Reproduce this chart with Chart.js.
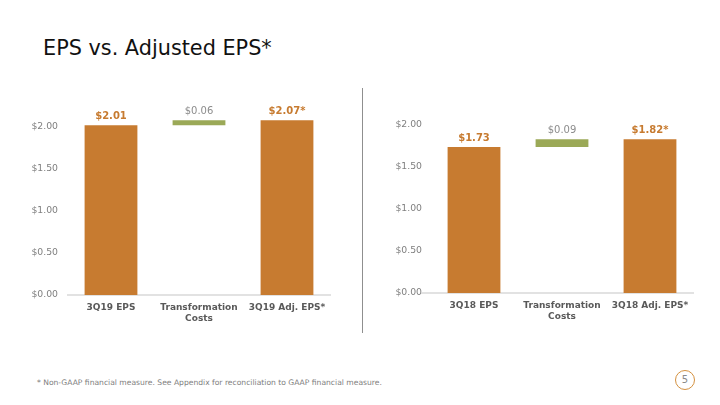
<!DOCTYPE html>
<html>
<head>
<meta charset="utf-8">
<script src="https://cdn.jsdelivr.net/npm/chart.js@4.4.0/dist/chart.umd.min.js"></script>
<style>
  html, body { margin: 0; padding: 0; background: #fff; }
  body { width: 720px; height: 405px; position: relative; overflow: hidden; font-family: "DejaVu Sans", Verdana, sans-serif; }
  #title { position: absolute; left: 43px; top: 36px; font-size: 20.8px; color: #111; white-space: nowrap; }
  .wrap { position: absolute; }
  #divider { position: absolute; left: 362px; top: 88px; width: 1px; height: 245px; background: #8f8f8f; }
  #foot { position: absolute; left: 37px; top: 378px; font-size: 7.6px; color: #808080; white-space: nowrap; }
  #page { position: absolute; left: 675px; top: 370px; width: 18px; height: 18px; border: 1.5px solid #D4913F; border-radius: 50%; text-align: center; line-height: 18px; font-size: 10px; color: #8a8a8a; }
</style>
</head>
<body>
<div id="title">EPS vs. Adjusted EPS*</div>
<div class="wrap" style="left:0px;top:80px;width:350px;height:270px;"><canvas id="c1" width="350" height="270"></canvas></div>
<div id="divider"></div>
<div class="wrap" style="left:360px;top:80px;width:355px;height:270px;"><canvas id="c2" width="355" height="270"></canvas></div>
<div id="foot">* Non-GAAP financial measure. See Appendix for reconciliation to GAAP financial measure.</div>
<div id="page">5</div>
<script>
// ---- Data ----
const categories2019 = ["3Q19 EPS", ["Transformation", "Costs"], "3Q19 Adj. EPS*"];
const values2019 = [2.01, 0.06, 2.07];
const labels2019 = ["$2.01", "$0.06", "$2.07*"];

const categories2018 = ["3Q18 EPS", ["Transformation", "Costs"], "3Q18 Adj. EPS*"];
const values2018 = [1.73, 0.09, 1.82];
const labels2018 = ["$1.73", "$0.09", "$1.82*"];

const yTickValues = [0, 0.5, 1.0, 1.5, 2.0];

const ORANGE = "#C77B30";
const GREEN = "#9BA957";

function waterfall(vals) {
  // first bar from 0, middle floats on top of first, last from 0
  return [[0, vals[0]], [vals[0], vals[0] + vals[1]], [0, vals[2]]];
}

const labelPlugin = {
  id: "valLabels",
  afterDatasetsDraw(chart, args, opts) {
    const ctx = chart.ctx;
    const meta = chart.getDatasetMeta(0);
    ctx.save();
    meta.data.forEach((bar, i) => {
      const txt = opts.labels[i];
      const isMid = i === 1;
      ctx.font = (isMid ? "" : "bold ") + "10px 'DejaVu Sans'";
      ctx.fillStyle = isMid ? "#8c8c8c" : ORANGE;
      ctx.textAlign = "center";
      ctx.textBaseline = "middle";
      ctx.fillText(txt, bar.x, bar.y - 9);
    });
    ctx.restore();
  }
};

const baselinePlugin = {
  id: "baseline",
  beforeDatasetsDraw(chart, args, opts) {
    const ctx = chart.ctx;
    const y = chart.scales.y.getPixelForValue(0);
    ctx.save();
    ctx.strokeStyle = "#d9d9d9";
    ctx.lineWidth = 1.5;
    ctx.beginPath();
    ctx.moveTo(chart.chartArea.left - opts.extend, y);
    ctx.lineTo(chart.chartArea.right, y);
    ctx.stroke();
    ctx.restore();
  }
};

function makeChart(id, cats, vals, lbls, yWidth, tickPad, padTop, padRight, xHeight) {
  return new Chart(document.getElementById(id), {
    type: "bar",
    data: {
      labels: cats,
      datasets: [{
        data: waterfall(vals),
        backgroundColor: [ORANGE, GREEN, ORANGE],
        borderWidth: 0,
        categoryPercentage: 1.0,
        barPercentage: 0.6
      }]
    },
    options: {
      responsive: false,
      animation: false,
      layout: { padding: { top: padTop, right: padRight, left: 0, bottom: 0 } },
      plugins: {
        legend: { display: false },
        tooltip: { enabled: false },
        valLabels: { labels: lbls },
        baseline: { extend: id === "c2" ? 9 : 0 }
      },
      scales: {
        x: {
          grid: { display: false, drawTicks: false },
          border: { display: false },
          ticks: {
            color: "#595959",
            font: { family: "'DejaVu Sans'", size: 9, weight: "bold", lineHeight: 1.25 },
            padding: 7,
            maxRotation: 0,
            autoSkip: false
          },
          afterFit: (s) => { s.height = xHeight; }
        },
        y: {
          min: 0,
          max: 2.31,
          grid: { display: false, drawTicks: false },
          border: { display: false },
          afterBuildTicks: (s) => { s.ticks = yTickValues.map(v => ({ value: v })); },
          ticks: {
            color: "#7f7f7f",
            font: { family: "'DejaVu Sans'", size: 9.3 },
            padding: tickPad,
            callback: (v) => "$" + Number(v).toFixed(2)
          },
          afterFit: (s) => { s.width = yWidth; }
        }
      }
    },
    plugins: [baselinePlugin, labelPlugin]
  });
}

makeChart("c1", categories2019, values2019, labels2019, 67, 9, 20, 19, 55);
makeChart("c2", categories2018, values2018, labels2018, 70, 8, 18, 21, 57);
</script>
</body>
</html>
